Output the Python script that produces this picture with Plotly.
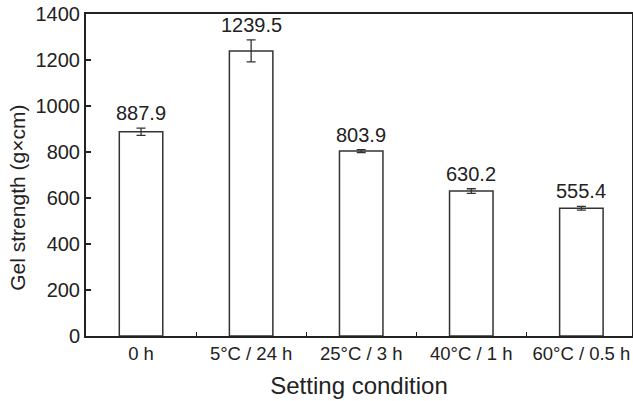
import plotly.graph_objects as go

categories = ["0 h", "5°C / 24 h", "25°C / 3 h", "40°C / 1 h", "60°C / 0.5 h"]
gel_strength = [887.9, 1239.5, 803.9, 630.2, 555.4]
errors = [16, 48, 6, 10, 8]
labels = ["887.9", "1239.5", "803.9", "630.2", "555.4"]
y_ticks = [0, 200, 400, 600, 800, 1000, 1200, 1400]

FONT = "Liberation Sans, Arial, sans-serif"
INK = "#222222"

fig = go.Figure()
fig.add_trace(go.Bar(
    x=categories, y=gel_strength, width=0.395,
    marker=dict(color="white", line=dict(color="#333333", width=1.5)),
    error_y=dict(type="data", array=errors, color="#333333", thickness=1.3, width=4.5),
    showlegend=False, hoverinfo="skip",
))

for c, v, e, t in zip(categories, gel_strength, errors, labels):
    fig.add_annotation(x=c, y=v + e, text=t, showarrow=False, yanchor="bottom",
                       yshift=2, font=dict(family=FONT, size=20, color=INK))

fig.add_annotation(xref="paper", yref="paper", x=-0.126, y=0.43,
                   text="Gel strength (g×cm)", textangle=-90, showarrow=False,
                   xanchor="center", yanchor="middle",
                   font=dict(family=FONT, size=21, color=INK))

fig.update_layout(
    width=633, height=401,
    margin=dict(l=86, r=1, t=14, b=65, autoexpand=False),
    plot_bgcolor="white", paper_bgcolor="white",
    font=dict(family=FONT, size=20, color=INK),
)
fig.update_xaxes(
    type="category", range=[-0.5, 4.46], automargin=False, tickangle=0,
    showline=True, linecolor=INK, linewidth=2, mirror=True,
    ticks="inside", tickson="boundaries", ticklen=4, tickwidth=1, tickcolor=INK,
    showgrid=False, tickfont=dict(size=18.5),
    title=dict(text="Setting condition", font=dict(size=24), standoff=14),
)
fig.update_yaxes(
    range=[0, 1400], tickvals=y_ticks, automargin=False,
    showline=True, linecolor=INK, linewidth=2, mirror=True,
    ticks="inside", ticklen=5, tickwidth=1.5, tickcolor=INK,
    showgrid=False, zeroline=False, tickfont=dict(size=20),
)

fig.write_html("out.html", config={"displayModeBar": False, "staticPlot": True},
               post_script="document.body.style.margin='0';")
